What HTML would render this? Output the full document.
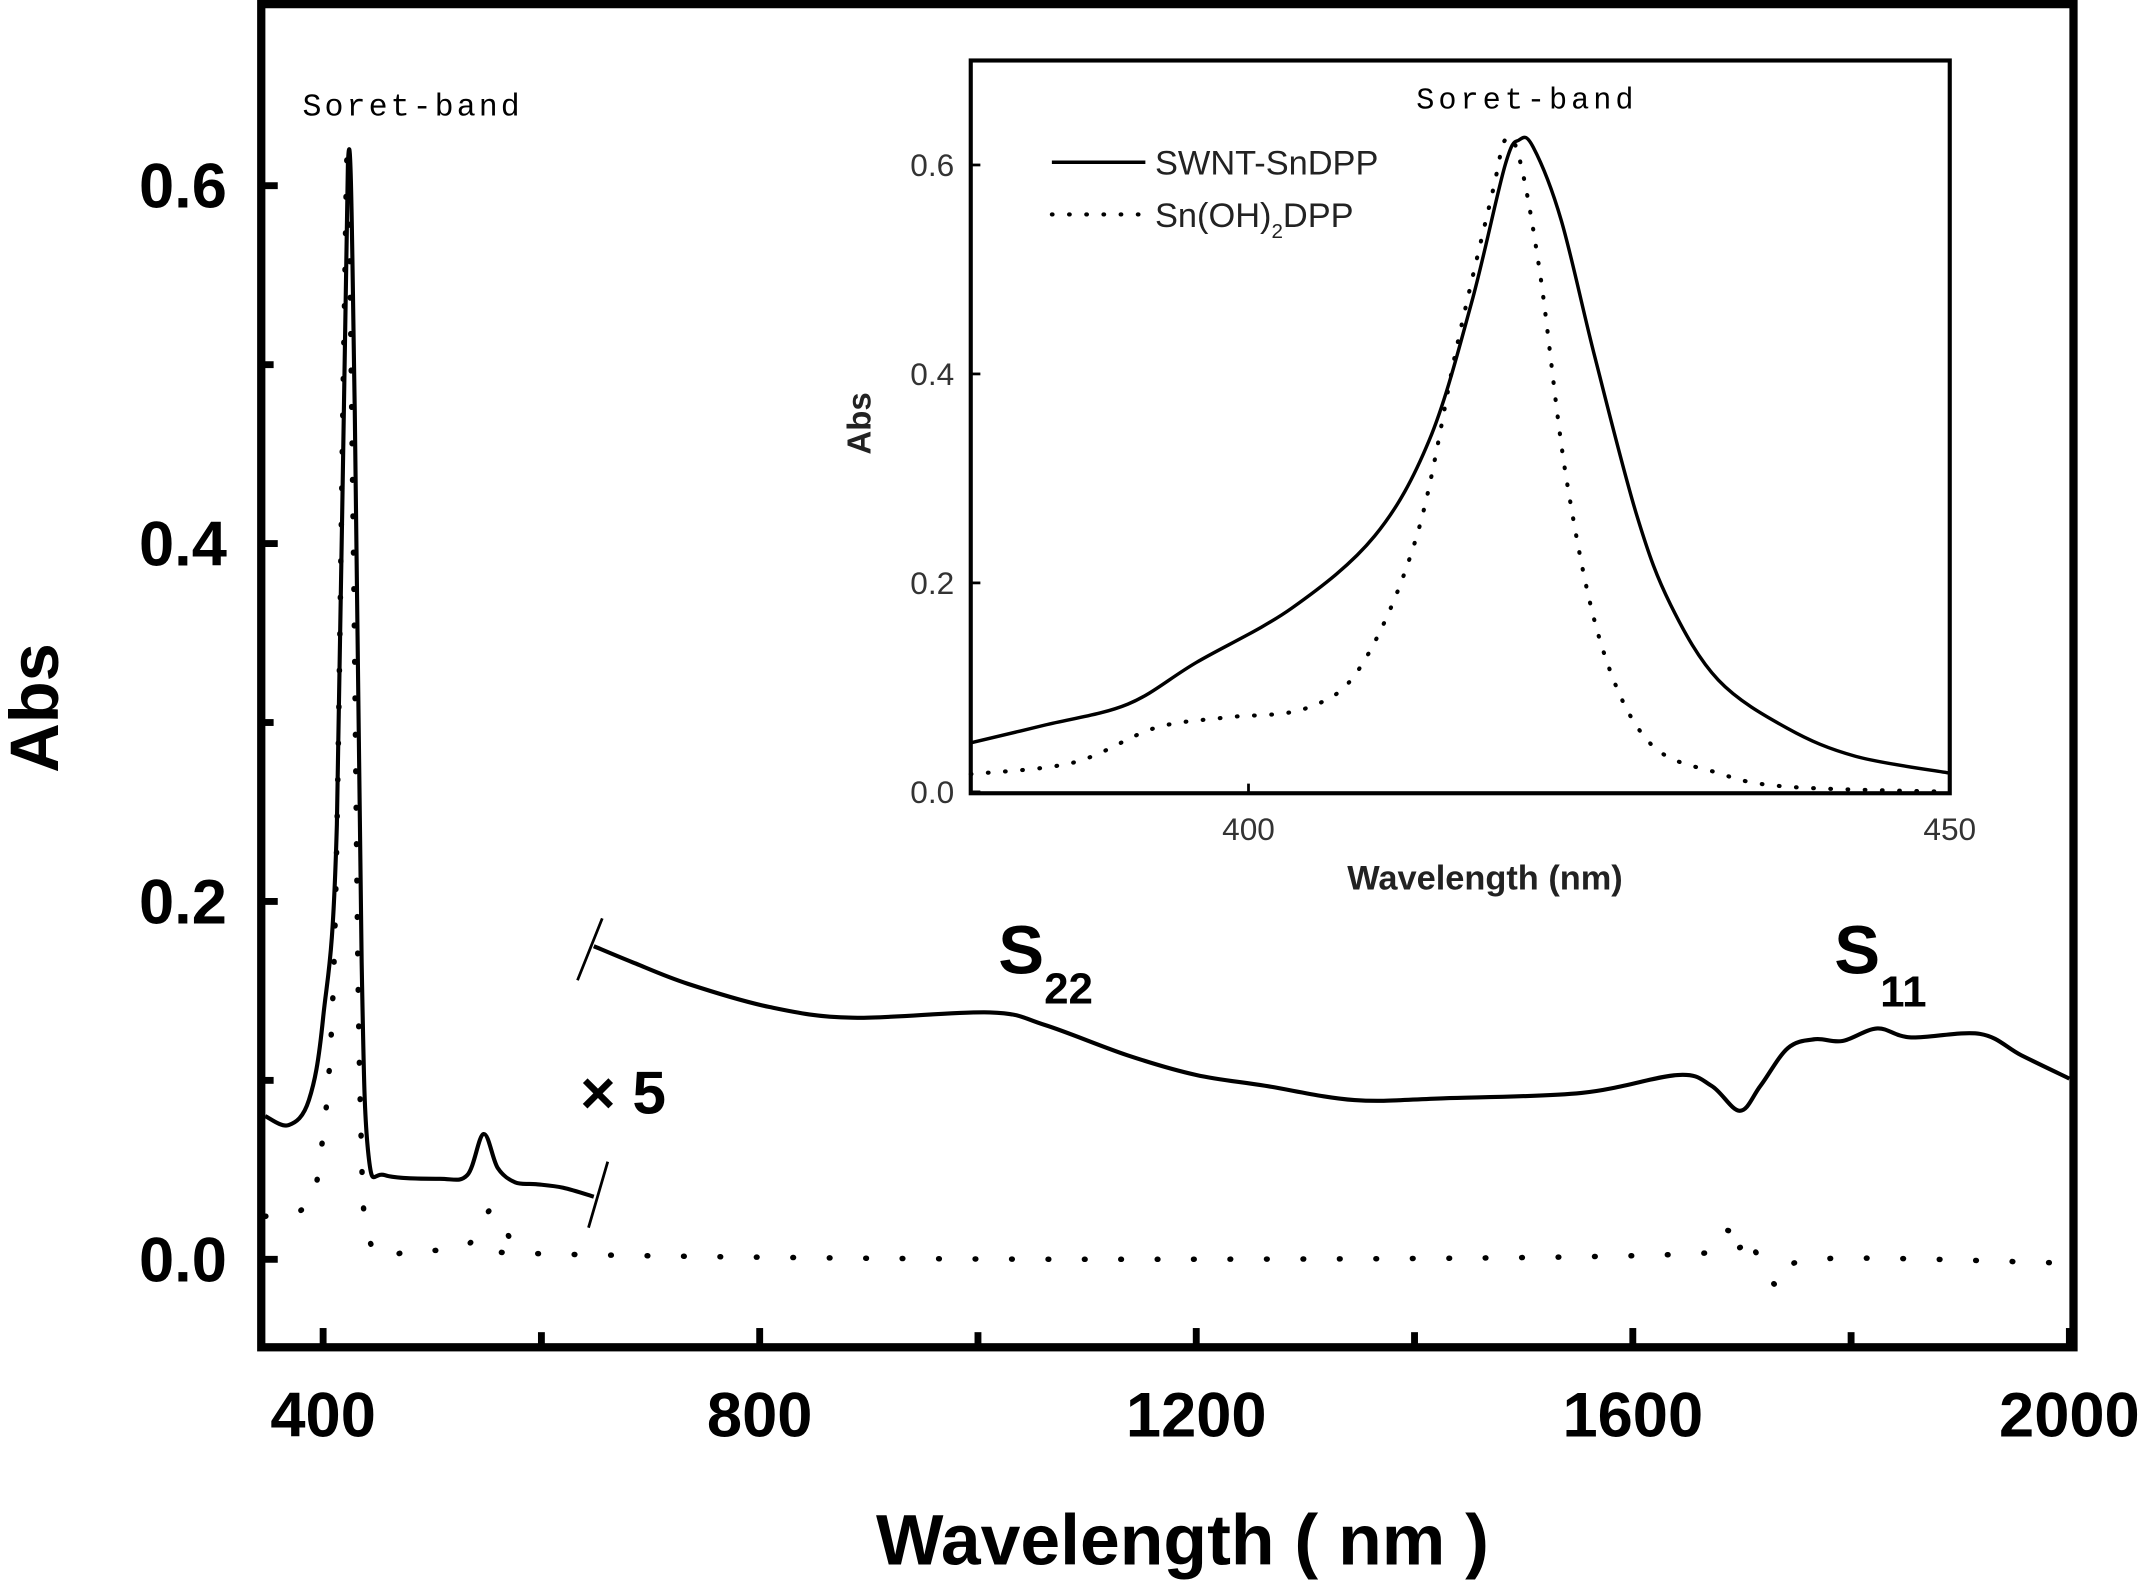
<!DOCTYPE html>
<html><head><meta charset="utf-8"><style>
html,body{margin:0;padding:0;background:#fff;}
svg{display:block;}
text{font-family:"Liberation Sans",sans-serif;}
text.mono{font-family:"Liberation Mono",monospace;}
</style></head><body>
<svg id="chart" width="2156" height="1581" viewBox="0 0 1568 1150" preserveAspectRatio="none" xmlns="http://www.w3.org/2000/svg">
<g id="main"></g><g id="inset"></g>
</svg>
<script>
// Main chart data
const mainSolidLowX=[347,368.5,387,400,412.6,422.7,429,435.3,441.6,456.7,507,532,547,560,576,595,620,648];
const mainSolidLowY=[0.080,0.075,0.089,0.135,0.243,0.612,0.474,0.166,0.058,0.047,0.045,0.047,0.070,0.051,0.043,0.042,0.040,0.035];
const mainSolidHighX=[648,683.5,734,809,885,1011,1061,1137,1200,1263,1345,1427,1553,1641,1672,1698,1717,1742,1767,1792,1824,1855,1918,1956,2000];
const mainSolidHighY=[0.175,0.166,0.154,0.141,0.135,0.138,0.131,0.114,0.103,0.097,0.089,0.090,0.093,0.103,0.097,0.083,0.097,0.118,0.123,0.122,0.129,0.124,0.126,0.114,0.101];
const mainDotX=[347,381,396,410,419,422.7,427.8,434,444,482,532,555,576,607,1110,1652,1683,1708,1733,1765,1992];
const mainDotY=[0.024,0.028,0.051,0.166,0.512,0.612,0.396,0.088,0.008,0.005,0.008,0.028,0.008,0.003,0.0,0.003,0.016,0.008,-0.015,0.0,-0.002];
const mainXTicks=[400,800,1200,1600,2000];
const mainYTicks=[0.0,0.2,0.4,0.6];
// Inset data
const insetSolidX=[380.2,385.5,391.4,396.3,403.1,409,412.9,415.9,418.3,419.3,420.3,422.3,424.7,427.7,430.1,433.5,438.4,443.3,450];
const insetSolidY=[0.047,0.064,0.084,0.124,0.176,0.245,0.337,0.468,0.600,0.624,0.617,0.547,0.416,0.264,0.179,0.107,0.061,0.034,0.018];
const insetDotX=[380.2,387.5,393.3,398.2,404.1,408,412,414.9,417.4,418.3,419.3,420.8,422.7,425.2,428.6,433.5,438.4,450];
const insetDotY=[0.017,0.028,0.061,0.071,0.080,0.120,0.245,0.429,0.574,0.624,0.607,0.495,0.297,0.139,0.047,0.018,0.005,0.0];
const insetXTicks=[400,450];
const insetYTicks=[0.0,0.2,0.4,0.6];

const NS="http://www.w3.org/2000/svg";
function mk(parent,tag,attrs,txt){const e=document.createElementNS(NS,tag);for(const k in attrs)e.setAttribute(k,attrs[k]);if(txt!==undefined)e.textContent=txt;parent.appendChild(e);return e;}
function smooth(pts){let d="M"+pts[0][0]+","+pts[0][1];for(let i=0;i<pts.length-1;i++){const p0=pts[Math.max(0,i-1)],p1=pts[i],p2=pts[i+1],p3=pts[Math.min(pts.length-1,i+2)];const c1x=p1[0]+(p2[0]-p0[0])/6,c1y=p1[1]+(p2[1]-p0[1])/6,c2x=p2[0]-(p3[0]-p1[0])/6,c2y=p2[1]-(p3[1]-p1[1])/6;d+=` C${c1x},${c1y} ${c2x},${c2y} ${p2[0]},${p2[1]}`;}return d;}

// main axes
const mx=v=>235+(v-400)*1270/1600;
const my=v=>916-v*1301.5;
const G=document.getElementById('main');
const frame=mk(G,'rect',{x:190,y:3,width:1318,height:977,fill:'none',stroke:'#000','stroke-width':6});


mainYTicks.forEach(t=>{const y=my(t);
 const tk=mk(G,'line',{x1:190,x2:202,y1:y,y2:y,stroke:'#000','stroke-width':5});
 
 const lb=mk(G,'text',{x:165,y:y+16,'text-anchor':'end','font-size':46,'font-weight':'bold'},t.toFixed(1));
 
});
[0.1,0.3,0.5].forEach(t=>{const y=my(t);const tk=mk(G,'line',{x1:190,x2:199,y1:y,y2:y,stroke:'#000','stroke-width':5});
 });
mainXTicks.forEach(t=>{const x=mx(t);
 const tk=mk(G,'line',{x1:x,x2:x,y1:980,y2:966,stroke:'#000','stroke-width':5});
 
 const lb=mk(G,'text',{x:x,y:1045,'text-anchor':'middle','font-size':46,'font-weight':'bold'},t);
 
});
[600,1000,1400,1800].forEach(t=>{const x=mx(t);const tk=mk(G,'line',{x1:x,x2:x,y1:980,y2:969,stroke:'#000','stroke-width':5});
 });
let e;
e=mk(G,'text',{x:860,y:1138,'text-anchor':'middle','font-size':52,'font-weight':'bold'},'Wavelength ( nm )');

e=mk(G,'text',{x:0,y:0,'text-anchor':'middle','font-size':50,'font-weight':'bold',transform:'translate(42,515) rotate(-90)'},'Abs');


function series(g,xs,ys,fx,fy,dotted,name,sw){
 const pts=xs.map((x,i)=>[fx(x),fy(ys[i])]);
 const p=mk(g,'path',{d:smooth(pts),fill:'none',stroke:'#000','stroke-width':sw,'stroke-linejoin':'round'});
 if(dotted){p.setAttribute('stroke-dasharray',dotted);p.setAttribute('stroke-linecap','round');}
 
}
series(G,mainSolidLowX,mainSolidLowY,mx,my,null,'swnt-sndpp-line-low',3);
series(G,mainSolidHighX,mainSolidHighY,mx,my,null,'swnt-sndpp-line-x5',3);
series(G,mainDotX,mainDotY,mx,my,'0.5 26','sn-oh2-dpp-dotted-line',4);
e=mk(G,'line',{x1:420,y1:713,x2:438,y2:668,stroke:'#000','stroke-width':2});

e=mk(G,'line',{x1:428,y1:893,x2:442,y2:845,stroke:'#000','stroke-width':2});

e=mk(G,'text',{x:422,y:810,'font-size':44,'font-weight':'bold'},'× 5');

e=mk(G,'text',{x:726,y:708,'font-size':50,'font-weight':'bold'},'S');

mk(e,'tspan',{dy:22,'font-size':32},'22');
e=mk(G,'text',{x:1334,y:708,'font-size':50,'font-weight':'bold'},'S');

mk(e,'tspan',{dy:24,'font-size':32},'11');
e=mk(G,'text',{x:220,y:84,'font-size':23,'class':'mono',textLength:158},'Soret-band');


// inset
const ix=v=>908+(v-400)*10.2;
const iy=v=>576-v*760;
const I=document.getElementById('inset');
e=mk(I,'rect',{x:706,y:44,width:712,height:533,fill:'#fff',stroke:'#000','stroke-width':3});

insetYTicks.forEach(t=>{const y=iy(t);
 const tk=mk(I,'line',{x1:706,x2:713,y1:y,y2:y,stroke:'#000','stroke-width':2});
 
 const lb=mk(I,'text',{x:694,y:y+8,'text-anchor':'end','font-size':23,fill:'#333'},t.toFixed(1));
 
});
insetXTicks.forEach(t=>{const x=ix(t);
 const tk=mk(I,'line',{x1:x,x2:x,y1:577,y2:570,stroke:'#000','stroke-width':2});
 
 const lb=mk(I,'text',{x:x,y:611,'text-anchor':'middle','font-size':23,fill:'#333'},t);
 
});
e=mk(I,'text',{x:1080,y:647,'text-anchor':'middle','font-size':25,'font-weight':'bold',fill:'#222'},'Wavelength (nm)');

e=mk(I,'text',{x:0,y:0,'text-anchor':'middle','font-size':24,'font-weight':'bold',fill:'#222',transform:'translate(633,308) rotate(-90)'},'Abs');

series(I,insetSolidX,insetSolidY,ix,iy,null,'inset-swnt-sndpp-line',2.5);
series(I,insetDotX,insetDotY,ix,iy,'0.5 12','inset-sn-oh2-dpp-dotted-line',3);
e=mk(I,'text',{x:1030,y:79,'font-size':22,'class':'mono',textLength:158},'Soret-band');

e=mk(I,'line',{x1:765,x2:833,y1:118,y2:118,stroke:'#000','stroke-width':2.5});

e=mk(I,'text',{x:840,y:127,'font-size':25,fill:'#222'},'SWNT-SnDPP');

e=mk(I,'line',{x1:765,x2:833,y1:156,y2:156,stroke:'#000','stroke-width':3,'stroke-dasharray':'0.5 12','stroke-linecap':'round'});

e=mk(I,'text',{x:840,y:165,'font-size':25,fill:'#222'},'Sn(OH)');

mk(e,'tspan',{dy:8,'font-size':15},'2');
mk(e,'tspan',{dy:-8},'DPP');
</script>
</body></html>
